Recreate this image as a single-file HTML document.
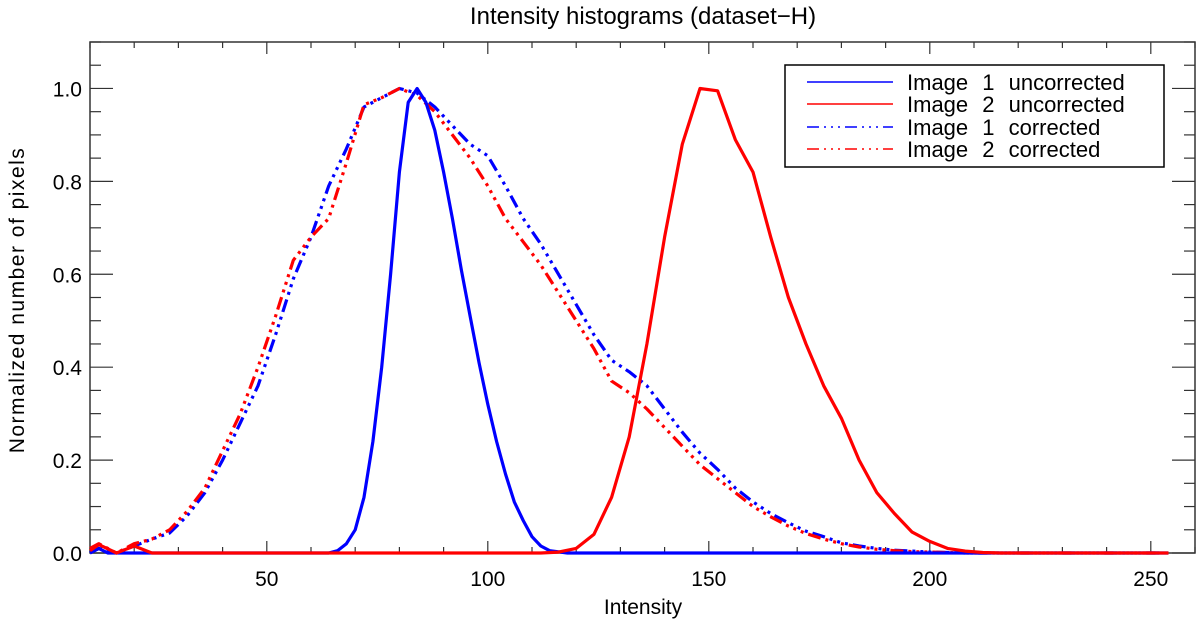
<!DOCTYPE html>
<html><head><meta charset="utf-8"><style>
html,body{margin:0;padding:0;background:#fff;}
svg{display:block;font-family:"Liberation Sans",sans-serif;}
</style></head><body>
<svg id="chart" width="1200" height="626" viewBox="0 0 1200 626">
<text x="643" y="24" font-size="24" text-anchor="middle">Intensity histograms (dataset−H)</text>
<text x="643" y="614" font-size="21" text-anchor="middle">Intensity</text>
<text transform="translate(24,300) rotate(-90)" font-size="21" text-anchor="middle" letter-spacing="1.5">Normalized number of pixels</text>
<g id="axes"></g>
<g id="series"></g>
<g>
<rect x="785" y="65" width="379" height="102" fill="#fff" stroke="#000" stroke-width="1.5"/>
<g><line x1="807" y1="82" x2="893" y2="82" stroke="#0000ff" stroke-width="1.5"/><text x="907" y="90" font-size="22" word-spacing="8">Image 1 uncorrected</text></g>
<g><line x1="807" y1="104" x2="893" y2="104" stroke="#ff0000" stroke-width="1.5"/><text x="907" y="112" font-size="22" word-spacing="8">Image 2 uncorrected</text></g>
<g><line x1="807" y1="127" x2="893" y2="127" stroke="#0000ff" stroke-width="1.5" stroke-dasharray="12,5,2,5,2,5,2,5"/><text x="907" y="135" font-size="22" word-spacing="8">Image 1 corrected</text></g>
<g><line x1="807" y1="149" x2="893" y2="149" stroke="#ff0000" stroke-width="1.5" stroke-dasharray="12,5,2,5,2,5,2,5"/><text x="907" y="157" font-size="22" word-spacing="8">Image 2 corrected</text></g>
</g>
</svg>
<script>
const img1UncX = [10,12,14,16,20,30,40,50,60,64,66,68,70,72,74,76,78,80,82,84,86,88,90,92,94,96,98,100,102,104,106,108,110,112,114,118,130,160,200,254];
const img1UncY = [0,0.01,0,0,0,0,0,0,0,0,0.005,0.02,0.05,0.12,0.24,0.4,0.6,0.82,0.97,1.0,0.97,0.91,0.82,0.72,0.61,0.51,0.41,0.32,0.24,0.17,0.11,0.07,0.035,0.015,0.005,0,0,0,0,0];
const img2UncX = [10,12,16,20,24,40,60,80,100,112,116,120,124,128,132,136,140,144,148,152,156,160,164,168,172,176,180,184,188,192,196,200,204,208,212,216,254];
const img2UncY = [0.005,0.018,0,0.015,0,0,0,0,0,0,0.002,0.01,0.04,0.12,0.25,0.45,0.68,0.88,1.0,0.995,0.89,0.82,0.68,0.55,0.45,0.36,0.29,0.2,0.13,0.085,0.045,0.025,0.01,0.004,0.001,0,0];
const corrX = [10,12,16,20,24,28,32,36,40,44,48,52,56,60,64,68,72,76,80,84,88,92,96,100,104,108,112,116,120,124,128,132,136,140,144,148,152,156,160,164,168,172,176,180,184,188,192,196,200,204,208,212,252];
const img1CorY = [0,0.01,0,0.015,0.03,0.043,0.08,0.13,0.2,0.28,0.36,0.47,0.59,0.68,0.79,0.87,0.96,0.98,1.0,0.99,0.96,0.92,0.88,0.855,0.79,0.72,0.665,0.6,0.535,0.47,0.415,0.39,0.36,0.31,0.26,0.215,0.18,0.14,0.11,0.085,0.065,0.047,0.035,0.022,0.015,0.01,0.006,0.004,0.002,0.001,0,0,0];
const img2CorY = [0.01,0.02,0,0.02,0.03,0.05,0.09,0.14,0.22,0.3,0.4,0.51,0.63,0.68,0.72,0.84,0.965,0.98,1.0,0.985,0.95,0.9,0.85,0.79,0.72,0.67,0.62,0.56,0.5,0.44,0.37,0.345,0.31,0.27,0.23,0.19,0.16,0.13,0.1,0.078,0.058,0.042,0.03,0.02,0.013,0.008,0.005,0.003,0.002,0.001,0,0,0];
const xTickLabels = [50,100,150,200,250];
const yTickLabels = ["0.0","0.2","0.4","0.6","0.8","1.0"];

const NS="http://www.w3.org/2000/svg";
const L=90,R=1195,T=42,B=553;
const xMin=10,xMax=260,yMin=0,yMax=1.1;
function sx(v){return L+(v-xMin)/(xMax-xMin)*(R-L);}
function sy(v){return B-(v-yMin)/(yMax-yMin)*(B-T);}
function mk(tag,attrs,parent){const e=document.createElementNS(NS,tag);for(const k in attrs)e.setAttribute(k,attrs[k]);parent.appendChild(e);return e;}

const axes=document.getElementById('axes');
const frame=mk('rect',{x:L,y:T,width:R-L,height:B-T,fill:'none',stroke:'#333','stroke-width':1.5},axes);


for(let v=10;v<=260;v+=10){
  const major=v%50===0, len=major?12:6;
  const t1=mk('line',{x1:sx(v),y1:B,x2:sx(v),y2:B-len,stroke:'#333','stroke-width':1.2},axes);
  
  
  const t2=mk('line',{x1:sx(v),y1:T,x2:sx(v),y2:T+len,stroke:'#333','stroke-width':1.2},axes);
  
  
}
xTickLabels.forEach(v=>{
  const t=mk('text',{x:sx(v),y:586,'font-size':21,'text-anchor':'middle'},axes);
  t.textContent=v;
  
  
});
for(let i=0;i<=22;i++){
  const v=i*0.05, major=i%4===0, len=major?23:11;
  const t1=mk('line',{x1:L,y1:sy(v),x2:L+len,y2:sy(v),stroke:'#333','stroke-width':1.2},axes);
  
  
  const t2=mk('line',{x1:R,y1:sy(v),x2:R-len,y2:sy(v),stroke:'#333','stroke-width':1.2},axes);
  
  
}
yTickLabels.forEach(s=>{
  const t=mk('text',{x:82,y:sy(parseFloat(s))+8,'font-size':21,'text-anchor':'end'},axes);
  t.textContent=s;
  
  
});

const sg=document.getElementById('series');
function line(xs,ys,color,dash,name){
  const d=xs.map((x,i)=>(i?'L':'M')+sx(x).toFixed(1)+','+sy(ys[i]).toFixed(1)).join(' ');
  const p=mk('path',{d:d,fill:'none',stroke:color,'stroke-width':3.2,'stroke-linejoin':'round'},sg);
  if(dash)p.setAttribute('stroke-dasharray',dash);
  
  
}
line(corrX,img1CorY,'#0000ff','13,5,3,5,3,5,3,5','line-image1-corrected');
line(corrX,img2CorY,'#ff0000','13,5,3,5,3,5,3,5','line-image2-corrected');
line(img1UncX,img1UncY,'#0000ff',null,'line-image1-uncorrected');
line(img2UncX,img2UncY,'#ff0000',null,'line-image2-uncorrected');
</script>
</body></html>
